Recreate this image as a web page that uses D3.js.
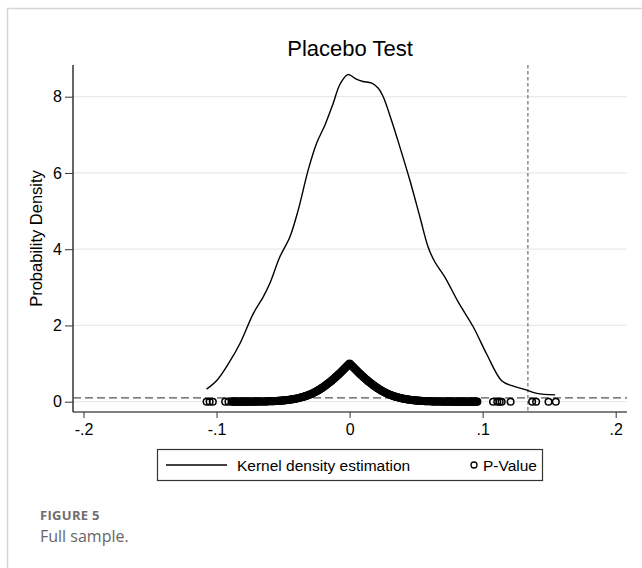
<!DOCTYPE html>
<html>
<head>
<meta charset="utf-8">
<script src="https://cdn.jsdelivr.net/npm/d3@7"></script>
<style>
  body { margin: 0; background: #fff; }
  svg { display: block; }
</style>
</head>
<body>
<svg id="chart" width="642" height="568"></svg>
<script>
// placebo test: kernel density + p-values

var xTicks = [-0.2, -0.1, 0, 0.1, 0.2]
var xTickLabels = ["-.2", "-.1", "0", ".1", ".2"]
var yTicks = [0, 2, 4, 6, 8]

// kernel density of placebo coefficients
var kdeX = [-0.1075, -0.1000, -0.0912, -0.0825, -0.0724, -0.0649, -0.0600, -0.0524, -0.0449, -0.0386,
  -0.0311, -0.0248, -0.0185, -0.0123, -0.0073, -0.0013, 0.0050, 0.0100, 0.0163, 0.0214,
  0.0251, 0.0314, 0.0377, 0.0452, 0.0528, 0.0590, 0.0640, 0.0716, 0.0817, 0.0930,
  0.1030, 0.1143, 0.1220, 0.1307, 0.1407, 0.1545]
var kdeY = [0.33, 0.55, 0.99, 1.52, 2.31, 2.75, 3.10, 3.80, 4.32, 5.03,
  6.08, 6.78, 7.26, 7.83, 8.32, 8.58, 8.46, 8.40, 8.36, 8.23,
  8.01, 7.39, 6.69, 5.82, 4.85, 4.06, 3.67, 3.27, 2.61, 1.96,
  1.25, 0.55, 0.42, 0.33, 0.22, 0.18]

// placebo coefficients and their p-values
var pvCoef = [-0.1075, -0.1052, -0.1028, -0.0935, -0.0910,
  -0.08850, -0.08775, -0.08700, -0.08625, -0.08550, -0.08475, -0.08400, -0.08325, -0.08250, -0.08175,
  -0.08100, -0.08025, -0.07950, -0.07875, -0.07800, -0.07725, -0.07650, -0.07575, -0.07500, -0.07425,
  -0.07350, -0.07275, -0.07200, -0.07125, -0.07050, -0.06975, -0.06900, -0.06825, -0.06750, -0.06675,
  -0.06600, -0.06525, -0.06450, -0.06375, -0.06300, -0.06225, -0.06150, -0.06075, -0.06000, -0.05925,
  -0.05850, -0.05775, -0.05700, -0.05625, -0.05550, -0.05475, -0.05400, -0.05325, -0.05250, -0.05175,
  -0.05100, -0.05025, -0.04950, -0.04875, -0.04800, -0.04725, -0.04650, -0.04575, -0.04500, -0.04425,
  -0.04350, -0.04275, -0.04200, -0.04125, -0.04050, -0.03975, -0.03900, -0.03825, -0.03750, -0.03675,
  -0.03600, -0.03525, -0.03450, -0.03375, -0.03300, -0.03225, -0.03150, -0.03075, -0.03000, -0.02925,
  -0.02850, -0.02775, -0.02700, -0.02625, -0.02550, -0.02475, -0.02400, -0.02325, -0.02250, -0.02175,
  -0.02100, -0.02025, -0.01950, -0.01875, -0.01800, -0.01725, -0.01650, -0.01575, -0.01500, -0.01425,
  -0.01350, -0.01275, -0.01200, -0.01125, -0.01050, -0.00975, -0.00900, -0.00825, -0.00750, -0.00675,
  -0.00600, -0.00525, -0.00450, -0.00375, -0.00300, -0.00225, -0.00150, -0.00075, 0.00000, 0.00075,
  0.00150, 0.00225, 0.00300, 0.00375, 0.00450, 0.00525, 0.00600, 0.00675, 0.00750, 0.00825,
  0.00900, 0.00975, 0.01050, 0.01125, 0.01200, 0.01275, 0.01350, 0.01425, 0.01500, 0.01575,
  0.01650, 0.01725, 0.01800, 0.01875, 0.01950, 0.02025, 0.02100, 0.02175, 0.02250, 0.02325,
  0.02400, 0.02475, 0.02550, 0.02625, 0.02700, 0.02775, 0.02850, 0.02925, 0.03000, 0.03075,
  0.03150, 0.03225, 0.03300, 0.03375, 0.03450, 0.03525, 0.03600, 0.03675, 0.03750, 0.03825,
  0.03900, 0.03975, 0.04050, 0.04125, 0.04200, 0.04275, 0.04350, 0.04425, 0.04500, 0.04575,
  0.04650, 0.04725, 0.04800, 0.04875, 0.04950, 0.05025, 0.05100, 0.05175, 0.05250, 0.05325,
  0.05400, 0.05475, 0.05550, 0.05625, 0.05700, 0.05775, 0.05850, 0.05925, 0.06000, 0.06075,
  0.06150, 0.06225, 0.06300, 0.06375, 0.06450, 0.06525, 0.06600, 0.06675, 0.06750, 0.06825,
  0.06900, 0.06975, 0.07050, 0.07125, 0.07200, 0.07275, 0.07350, 0.07425, 0.07500, 0.07575,
  0.07650, 0.07725, 0.07800, 0.07875, 0.07950, 0.08025, 0.08100, 0.08175, 0.08250, 0.08325,
  0.08400, 0.08475, 0.08550, 0.08625, 0.08700, 0.08775, 0.08850, 0.08925, 0.09000, 0.09075,
  0.09150, 0.09225, 0.09300, 0.09375, 0.09450, 0.09525, 0.09600,
  0.1078, 0.1110, 0.1128, 0.1143, 0.1210, 0.1372, 0.1402, 0.1495, 0.1550]
var pvP = [0, 0, 0, 0.001, 0.001,
  0.001, 0.001, 0.001, 0.001, 0.001, 0.001, 0.001, 0.001, 0.001, 0.001,
  0.001, 0.001, 0.001, 0.001, 0.001, 0.002, 0.002, 0.002, 0.002, 0.002,
  0.002, 0.002, 0.003, 0.003, 0.003, 0.003, 0.004, 0.004, 0.004, 0.004,
  0.005, 0.005, 0.006, 0.007, 0.007, 0.008, 0.009, 0.010, 0.011, 0.012,
  0.013, 0.014, 0.015, 0.016, 0.018, 0.019, 0.021, 0.023, 0.025, 0.027,
  0.029, 0.031, 0.034, 0.036, 0.039, 0.042, 0.045, 0.048, 0.052, 0.056,
  0.060, 0.064, 0.069, 0.074, 0.079, 0.084, 0.090, 0.096, 0.102, 0.109,
  0.116, 0.123, 0.131, 0.139, 0.148, 0.156, 0.166, 0.175, 0.186, 0.197,
  0.209, 0.221, 0.234, 0.247, 0.261, 0.275, 0.290, 0.305, 0.321, 0.338,
  0.355, 0.373, 0.391, 0.409, 0.428, 0.448, 0.468, 0.488, 0.509, 0.530,
  0.552, 0.574, 0.597, 0.620, 0.644, 0.668, 0.692, 0.716, 0.741, 0.766,
  0.792, 0.818, 0.844, 0.869, 0.895, 0.921, 0.947, 0.973, 1.000, 0.973,
  0.947, 0.921, 0.895, 0.869, 0.844, 0.818, 0.792, 0.766, 0.741, 0.716,
  0.692, 0.668, 0.644, 0.620, 0.597, 0.574, 0.552, 0.530, 0.509, 0.488,
  0.468, 0.448, 0.428, 0.409, 0.391, 0.373, 0.355, 0.338, 0.321, 0.305,
  0.290, 0.275, 0.261, 0.247, 0.234, 0.221, 0.209, 0.197, 0.186, 0.175,
  0.166, 0.156, 0.148, 0.139, 0.131, 0.123, 0.116, 0.109, 0.102, 0.096,
  0.090, 0.084, 0.079, 0.074, 0.069, 0.064, 0.060, 0.056, 0.052, 0.048,
  0.045, 0.042, 0.039, 0.036, 0.034, 0.031, 0.029, 0.027, 0.025, 0.023,
  0.021, 0.019, 0.018, 0.016, 0.015, 0.014, 0.013, 0.012, 0.011, 0.010,
  0.009, 0.008, 0.007, 0.007, 0.006, 0.005, 0.005, 0.004, 0.004, 0.004,
  0.004, 0.003, 0.003, 0.003, 0.003, 0.002, 0.002, 0.002, 0.002, 0.002,
  0.002, 0.001, 0.001, 0.001, 0.001, 0.001, 0.001, 0.001, 0.001, 0.001,
  0.001, 0.001, 0.001, 0.001, 0.001, 0.001, 0.001, 0.001, 0.001, 0.001,
  0.001, 0.001, 0.001, 0.001, 0.001, 0.001, 0.001,
  0, 0, 0, 0, 0, 0, 0, 0, 0]

var trueCoef = 0.134   // vertical reference line
var pCutoff = 0.1      // horizontal reference line

var legendItems = ["Kernel density estimation", "P-Value"]

var svg = d3.select("#chart")
var font = "'Liberation Sans', Arial, sans-serif"

// card border (top + left)
svg.append("path")
  .attr("d", "M7.5,568 V8.5 H642")
  .attr("fill", "none")
  .attr("stroke", "#d6d6d6")
  .attr("stroke-width", 1.5)

// plot box
var pLeft = 73, pRight = 627, pTop = 65, pBottom = 412

var x = d3.scaleLinear().domain([-0.2, 0.2]).range([83.5, 615.7])
var y = d3.scaleLinear().domain([0, 8]).range([401.7, 96.7])

// grid
svg.append("g").selectAll("line").data(yTicks).enter().append("line")
  .attr("x1", pLeft).attr("x2", pRight)
  .attr("y1", d => y(d)).attr("y2", d => y(d))
  .attr("stroke", "#e9e9e9").attr("stroke-width", 1.3)

// axes
var yAxis = svg.append("g").attr("transform", "translate(" + pLeft + ",0)")
  .call(d3.axisLeft(y).tickValues(yTicks).tickSize(8).tickPadding(3).tickFormat(d3.format("d")))
var xAxis = svg.append("g").attr("transform", "translate(0," + pBottom + ")")
  .call(d3.axisBottom(x).tickValues(xTicks).tickSize(6).tickPadding(6).tickFormat((d, i) => xTickLabels[i]))
yAxis.select(".domain").attr("d", "M0," + pTop + "V" + pBottom)
xAxis.select(".domain").attr("d", "M" + pLeft + ",0H" + pRight)
svg.selectAll(".domain").attr("stroke", "#000").attr("stroke-width", 1.2)
svg.selectAll(".tick line").attr("stroke", "#333")
svg.selectAll(".tick text").attr("font-family", font).attr("font-size", 16).attr("fill", "#000")

// reference lines
svg.append("line")
  .attr("x1", pLeft).attr("x2", pRight)
  .attr("y1", y(pCutoff)).attr("y2", y(pCutoff))
  .attr("stroke", "#555").attr("stroke-width", 1.2).attr("stroke-dasharray", "8,4")
svg.append("line")
  .attr("x1", x(trueCoef)).attr("x2", x(trueCoef))
  .attr("y1", pTop).attr("y2", pBottom)
  .attr("stroke", "#777").attr("stroke-width", 1.3).attr("stroke-dasharray", "3.5,2.5")

// kernel density
var kde = d3.zip(kdeX, kdeY)
svg.append("path")
  .datum(kde)
  .attr("fill", "none")
  .attr("stroke", "#000")
  .attr("stroke-width", 1.4)
  .attr("d", d3.line().x(d => x(d[0])).y(d => y(d[1])).curve(d3.curveCatmullRom))

// p-values
var pv = d3.zip(pvCoef, pvP)
svg.append("g").selectAll("circle").data(pv).enter().append("circle")
  .attr("cx", d => x(d[0]))
  .attr("cy", d => y(d[1]))
  .attr("r", 3.3)
  .attr("fill", "none")
  .attr("stroke", "#000")
  .attr("stroke-width", 1.5)

// title
svg.append("text")
  .attr("x", (pLeft + pRight) / 2).attr("y", 56)
  .attr("text-anchor", "middle")
  .attr("font-family", font).attr("font-size", 22)
  .text("Placebo Test")

// y title
svg.append("text")
  .attr("transform", "translate(42," + (pTop + pBottom) / 2 + ") rotate(-90)")
  .attr("text-anchor", "middle")
  .attr("font-family", font).attr("font-size", 16.5)
  .text("Probability Density")

// legend
var lg = svg.append("g")
lg.append("rect")
  .attr("x", 157.5).attr("y", 449.5).attr("width", 385).attr("height", 31)
  .attr("fill", "#fff").attr("stroke", "#333").attr("stroke-width", 1.2)
lg.append("line")
  .attr("x1", 166).attr("x2", 227).attr("y1", 465).attr("y2", 465)
  .attr("stroke", "#000").attr("stroke-width", 1.4)
lg.append("text").attr("x", 237).attr("y", 470.5)
  .attr("font-family", font).attr("font-size", 15.5)
  .text(legendItems[0])
lg.append("circle").attr("cx", 474).attr("cy", 465).attr("r", 3)
  .attr("fill", "none").attr("stroke", "#000").attr("stroke-width", 1.3)
lg.append("text").attr("x", 483).attr("y", 470.5)
  .attr("font-family", font).attr("font-size", 15.5)
  .text(legendItems[1])

// caption
svg.append("text").attr("x", 40).attr("y", 520)
  .attr("font-family", "'Open Sans', sans-serif").attr("font-size", 13).attr("font-weight", 700)
  .attr("fill", "#6e6e6e").attr("letter-spacing", 0.3)
  .text("FIGURE 5")
svg.append("text").attr("x", 40).attr("y", 542)
  .attr("font-family", "'Open Sans', sans-serif").attr("font-size", 16)
  .attr("fill", "#666")
  .text("Full sample.")
</script>
</body>
</html>
